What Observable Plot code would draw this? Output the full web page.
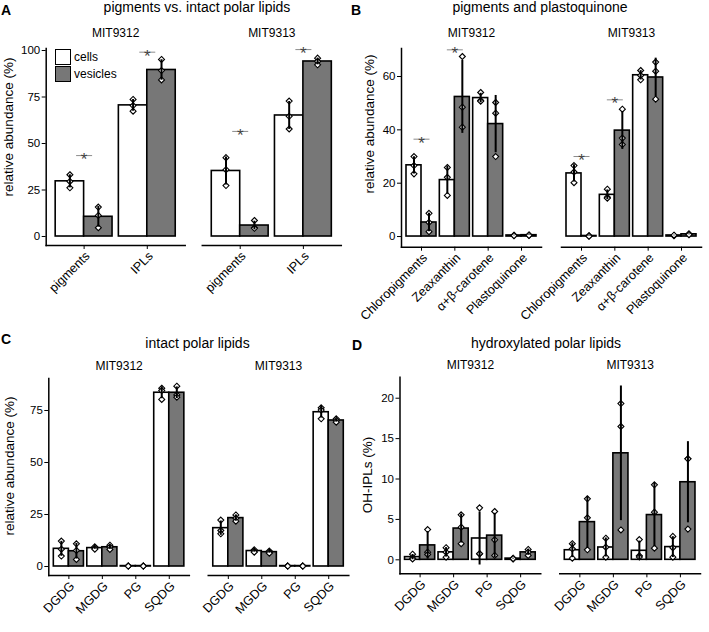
<!DOCTYPE html>
<html><head><meta charset="utf-8">
<script src="https://cdn.jsdelivr.net/npm/d3@7"></script>
<script src="https://cdn.jsdelivr.net/npm/@observablehq/plot@0.6"></script>
<style>
body{margin:0;background:#fff;}
#fig{position:relative;width:709px;height:632px;font-family:"Liberation Sans",Arial,Helvetica,sans-serif;color:#000;overflow:hidden;background:#fff}
.abs{position:absolute;white-space:nowrap;line-height:14px}
.title{font-size:14px;transform:translateX(-50%)}
.letter{font-size:14px;font-weight:bold}
.ylab{font-size:13.5px;transform:translate(-50%,-50%) rotate(-90deg)}
.key{position:absolute;width:14px;height:14px;border:1.3px solid #000}
.svgwrap{position:absolute}
</style></head><body><div id="fig"></div>
<script>
const strains = ["MIT9312", "MIT9313"];
const conditions = ["cells", "vesicles"];
const fillColors = ["#ffffff", "#777777"];

// Panel A: pigments vs. intact polar lipids (replicates per category)
const catsA = ["pigments", "IPLs"];
const aCells9312 = [[33.2, 29.6, 26.2], [73.7, 70.4, 67.4]];
const aVes9312 = [[15.8, 11.3, 4.7], [95.2, 89.2, 84.2]];
const aCells9313 = [[42.4, 35.9, 27.4], [72.8, 64.6, 57.8]];
const aVes9313 = [[8.6, 4.7, 4.4], [95.9, 94.1, 92.3]];
const sigA9312 = [43.5, 99.1];
const sigA9313 = [56.5, 100.5];
const ticksA = [0, 25, 50, 75, 100];

// Panel B: pigments and plastoquinone
const catsB = ["Chloropigments", "Zeaxanthin", "α+β-carotene", "Plastoquinone"];
const bCells9312 = [[30, 26.6, 23.5], [25.9, 22.2, 15.4], [54, 51, 50.75], [0.5, 0.4, 0.3]];
const bVes9312 = [[8.7, 5.3, 1.8], [67.5, 48.5, 41], [50.25, 46.25, 30], [0.6, 0.5, 0.4]];
const bCells9313 = [[26.6, 24.2, 20.2], [17.75, 14.75, 14.4], [62.25, 60.4, 58.75], [0.4, 0.3, 0.5]];
const bVes9313 = [[0.3, 0.2, 0.1], [47.75, 36.9, 34.5], [65.4, 62, 51.5], [1.0, 0.8, 0.7]];
const sigB9312 = [36.5, 70, null, null];
const sigB9313 = [30, 51.25, null, null];
const ticksB = [0, 20, 40, 60];

// Panel C: intact polar lipids
const catsC = ["DGDG", "MGDG", "PG", "SQDG"];
const cCells9312 = [[12.2, 8.3, 5.0], [9.45, 8.8, 8.3], [0.2, 0.2, 0.2], [85.7, 84.6, 80.3]];
const cVes9312 = [[10.9, 7.7, 3.4], [10.25, 9.3, 8.2], [0.2, 0.2, 0.2], [86.7, 82.5, 81.4]];
const cCells9313 = [[22.3, 17.3, 15.7], [8.0, 7.4, 6.9], [0.2, 0.2, 0.2], [76.3, 75.2, 71]];
const cVes9313 = [[24.8, 23.2, 21.8], [7.4, 6.9, 6.4], [0.2, 0.2, 0.2], [71, 70.2, 69.4]];
const ticksC = [0, 25, 50, 75];

// Panel D: hydroxylated polar lipids
const catsD = ["DGDG", "MGDG", "PG", "SQDG"];
const dCells9312 = [[0.7, 0.2, 0.1], [1.5, 0.95, 0.33], [6.43, 0.74, 0.75], [0.2, 0.1, 0.15]];
const dVes9312 = [[3.75, 0.95, 0.66], [5.57, 4.04, 2.0], [5.98, 2.47, 0.54], [1.28, 0.95, 0.54]];
const dCells9313 = [[2.0, 1.36, 0.2], [2.68, 1.57, 0.33], [2.5, 0.5, 0.35], [2.9, 1.5, 0.33]];
const dVes9313 = [[7.55, 5.2, 1.24], [19.34, 16.5, 3.7], [9.28, 5.9, 1.44], [12.5, 12.5, 3.8]];
const ticksD = [0, 5, 10, 15, 20];

const fig = document.getElementById("fig");
const FONT = '"Liberation Sans", Arial, Helvetica, sans-serif';
const BARW = 0.45;
const hline = {draw(ctx, size) { const w = Math.sqrt(size / Math.PI); ctx.moveTo(-w, 0); ctx.lineTo(w, 0); }};

function addDiv(cls, text, styles) {
  const el = document.createElement("div");
  el.className = "abs " + cls;
  el.textContent = text;
  Object.assign(el.style, styles);
  fig.appendChild(el);
  return el;
}

function panel(cfg) {
  const {cats, reps, sigs, ticks, yDomain, left, top, width, height, marginLeft, marginRight, marginTop, marginBottom, paddingInner, fxPad} = cfg;
  const bars = [], pts = [], sig = [];
  strains.forEach((s, si) => {
    conditions.forEach((c, ci) => {
      cats.forEach((cat, k) => {
        const v = reps[si][ci][k];
        const m = d3.mean(v), sd = d3.deviation(v) || 0;
        bars.push({strain: s, cond: c, ci, idx: k + 1, mean: m, lo: m - sd, hi: m + sd});
        v.forEach(val => pts.push({strain: s, cond: c, ci, idx: k + 1, value: val}));
      });
    });
    if (sigs) sigs[si].forEach((y, k) => { if (y != null) sig.push({strain: s, idx: k + 1, y}); });
  });
  const center = d => d.idx + (d.ci - 0.5) * BARW;
  const chart = Plot.plot({
    width, height, marginLeft, marginRight, marginTop, marginBottom,
    style: {fontFamily: FONT, fontSize: "12px", color: "#000", background: "none", overflow: "visible"},
    fx: {domain: strains, paddingInner, paddingOuter: 0, round: false, label: null},
    x: {domain: [0.4, cats.length + 0.6], label: null},
    y: {domain: yDomain, label: null},
    color: {domain: conditions, range: fillColors},
    marks: [
      Plot.rect(bars, {fx: "strain", x1: d => d.idx + (d.ci - 1) * BARW, x2: d => d.idx + d.ci * BARW, y1: d => 0, y2: "mean", fill: "cond", stroke: "#000", strokeWidth: 1.6}),
      Plot.dot(pts, {fx: "strain", x: center, y: "value", symbol: "diamond2", r: 2.7, fill: "white", stroke: "#000", strokeWidth: 1.1}),
      Plot.ruleX(bars, {fx: "strain", x: center, y1: "lo", y2: "hi", stroke: "#000", strokeWidth: 2}),
      Plot.dot(sig, {fx: "strain", x: "idx", y: "y", symbol: hline, r: 8, fill: "none", stroke: "#8c8c8c", strokeWidth: 1}),
      Plot.text(sig, {fx: "strain", x: "idx", y: "y", text: d => "*", fontSize: 17, fill: "#444", lineAnchor: "middle", dy: 4}),
      Plot.frame({anchor: "bottom", stroke: "#000", strokeWidth: 1.5}),
      Plot.frame({anchor: "left", facetAnchor: "left", stroke: "#000", strokeWidth: 1.5}),
      Plot.axisY({ticks, tickSize: 4, tickPadding: 2, fontSize: 11.5, label: null}),
      Plot.axisX({ticks: cats.map((c, i) => i + 1), tickFormat: i => cats[i - 1], tickRotate: -45, tickSize: 4, tickPadding: 1, fontSize: 12.6, textAnchor: "end", lineAnchor: "top", label: null}),
      Plot.axisFx({anchor: "top", tickSize: 0, tickPadding: fxPad, fontSize: 12, label: null})
    ]
  });
  const wrap = document.createElement("div");
  wrap.className = "svgwrap";
  wrap.style.left = left + "px";
  wrap.style.top = top + "px";
  wrap.appendChild(chart);
  fig.appendChild(wrap);
}

panel({cats: catsA, reps: [[aCells9312, aVes9312], [aCells9313, aVes9313]], sigs: [sigA9312, sigA9313], ticks: ticksA,
  yDomain: [-4.84, 101.08], left: 0, top: 20, width: 350, height: 285, marginLeft: 45.7, marginRight: 9.2, marginTop: 28, marginBottom: 60, paddingInner: 0.1095, fxPad: 11.5});
panel({cats: catsB, reps: [[bCells9312, bVes9312], [bCells9313, bVes9313]], sigs: [sigB9312, sigB9313], ticks: ticksB,
  yDomain: [-4.0, 70.5], left: 350, top: 20, width: 359, height: 285, marginLeft: 51, marginRight: 8, marginTop: 28, marginBottom: 58.3, paddingInner: 0.125, fxPad: 11.5});
panel({cats: catsC, reps: [[cCells9312, cVes9312], [cCells9313, cVes9313]], sigs: null, ticks: ticksC,
  yDomain: [-4.33, 90.38], left: 0, top: 350, width: 352, height: 282, marginLeft: 48.3, marginRight: 3.7, marginTop: 28, marginBottom: 57, paddingInner: 0.1185, fxPad: 9});
panel({cats: catsD, reps: [[dCells9312, dVes9312], [dCells9313, dVes9313]], sigs: null, ticks: ticksD,
  yDomain: [-1.73, 22.6], left: 350, top: 350, width: 359, height: 282, marginLeft: 49.5, marginRight: 9, marginTop: 26.7, marginBottom: 58.7, paddingInner: 0.119, fxPad: 8});

// titles and panel letters
addDiv("letter", "A", {left: "1px", top: "3px"});
addDiv("letter", "B", {left: "351px", top: "3px"});
addDiv("letter", "C", {left: "1px", top: "332px"});
addDiv("letter", "D", {left: "352px", top: "338px"});
addDiv("title", "pigments vs. intact polar lipids", {left: "197px", top: "0px"});
addDiv("title", "pigments and plastoquinone", {left: "540px", top: "0px"});
addDiv("title", "intact polar lipids", {left: "197.5px", top: "335.5px"});
addDiv("title", "hydroxylated polar lipids", {left: "546px", top: "335.5px"});
// y axis titles
addDiv("ylab", "relative abundance (%)", {left: "9px", top: "127px"});
addDiv("ylab", "relative abundance (%)", {left: "370px", top: "124px"});
addDiv("ylab", "relative abundance (%)", {left: "10px", top: "466px"});
addDiv("ylab", "OH-IPLs (%)", {left: "368px", top: "475px"});
// legend (panel A)
conditions.forEach((c, i) => {
  const k = document.createElement("div");
  k.className = "key";
  k.style.left = "55px";
  k.style.top = (48.7 + i * 17.3) + "px";
  k.style.background = fillColors[i];
  fig.appendChild(k);
  addDiv("", c, {left: "74px", top: (50 + i * 17.3) + "px", fontSize: "12px"});
});
</script></body></html>
